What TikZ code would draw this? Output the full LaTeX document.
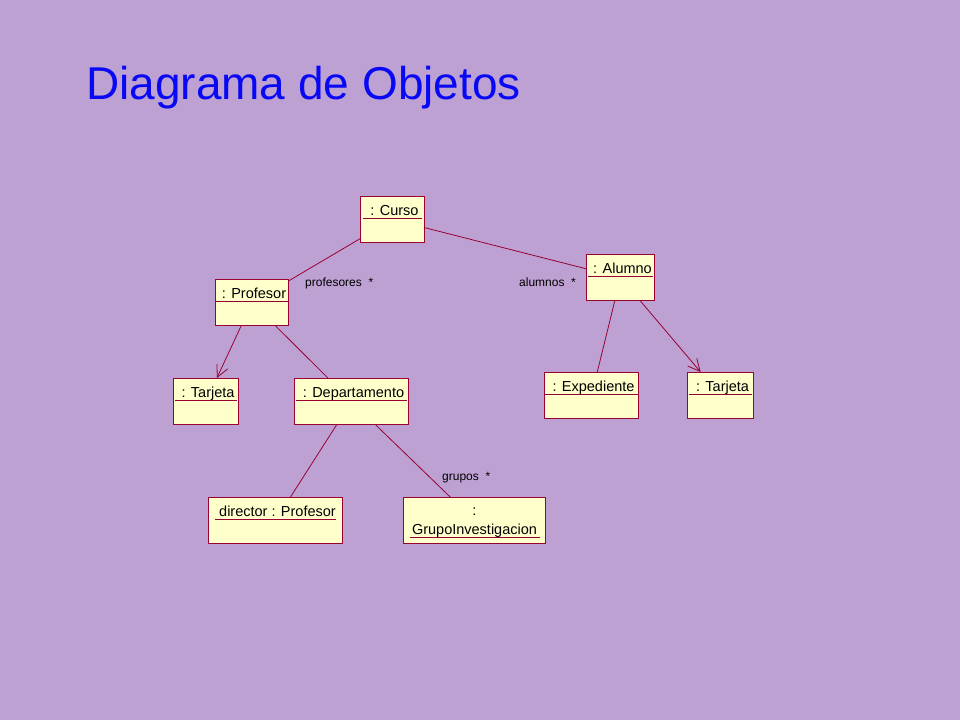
\documentclass[tikz,border=0pt]{standalone}
\usepackage{fontspec}
\setmainfont{Liberation Sans}
\usepackage{tikz}
\usetikzlibrary{arrows.meta}
\definecolor{fondo}{RGB}{190,161,211}
\definecolor{amarillo}{RGB}{255,255,204}
\definecolor{granate}{RGB}{153,0,51}
\definecolor{azultitulo}{RGB}{8,8,245}

\begin{document}
\begin{tikzpicture}[x=1pt,y=-1pt,
	objeto/.style={draw=granate,fill=amarillo,line width=1pt,minimum width=#1,minimum height=46pt,inner sep=0pt,anchor=north west},
	nombre/.style={font=\fontsize{14.5}{17}\selectfont,anchor=base,inner sep=0pt},
	rol/.style={font=\fontsize{12}{14}\selectfont,anchor=base west,inner sep=0pt},
	enlace/.style={draw=granate,line width=0.8pt},
	flecha/.style={enlace,-{Straight Barb[length=12pt,width=12pt]}}]
		\fill[fondo] (0,0) rectangle (960,720);
		\useasboundingbox (0,0) rectangle (960,720);
		\node[anchor=base west,inner sep=0pt,text=azultitulo,font=\fontsize{46}{52}\selectfont] (titulo) at (86,99) {Diagrama de Objetos};
		\foreach \n/\x/\y/\w/\t/\u in {curso/360/196/64/{: Curso}/3, alumno/586/254/68/{: Alumno}/2,
			profesor/215/279/73/{: Profesor}/1, tarjetaP/173/378/65/{: Tarjeta}/2,
			depto/294/378/114/{: Departamento}/2, expediente/544/372/94/{: Expediente}/1,
			tarjetaA/687/372/66/{: Tarjeta}/2, director/208/497/134/{director : Profesor}/7}
		{
		\node[objeto=\w] (\n) at (\x,\y) {};
		\node[nombre] (\n-t) at ([xshift=2pt,yshift=-19pt]\n.north) {\t};
		\draw[granate,line width=0.9pt] ([xshift=\u pt,yshift=-22pt]\n.north west) -- ([xshift=-\u pt,yshift=-22pt]\n.north east);
		}
		\node[objeto=142] (grupo) at (403,497) {};
		\node[nombre] (grupo-t1) at ([yshift=-18pt]grupo.north) {:};
		\node[nombre] (grupo-t2) at ([yshift=-37pt]grupo.north) {GrupoInvestigacion};
		\draw[granate,line width=0.9pt] ([xshift=7pt,yshift=-40pt]grupo.north west) -- ([xshift=-6pt,yshift=-40pt]grupo.north east);
		\draw[enlace] (curso) -- (profesor);
		\draw[enlace] (curso) -- (alumno);
		\draw[flecha] (profesor) -- (tarjetaP);
		\draw[enlace] (profesor) -- (depto);
		\draw[enlace] (depto) -- (director);
		\draw[enlace] (depto) -- (grupo);
		\draw[enlace] (alumno) -- (expediente);
		\draw[flecha] (alumno) -- (tarjetaA);
		\node[rol] (r-prof) at (305,286) {profesores\ \ *};
		\node[rol] (r-alum) at (519,286) {alumnos\ \ *};
		\node[rol] (r-grup) at (442,480) {grupos\ \ *};
\end{tikzpicture}
\end{document}
